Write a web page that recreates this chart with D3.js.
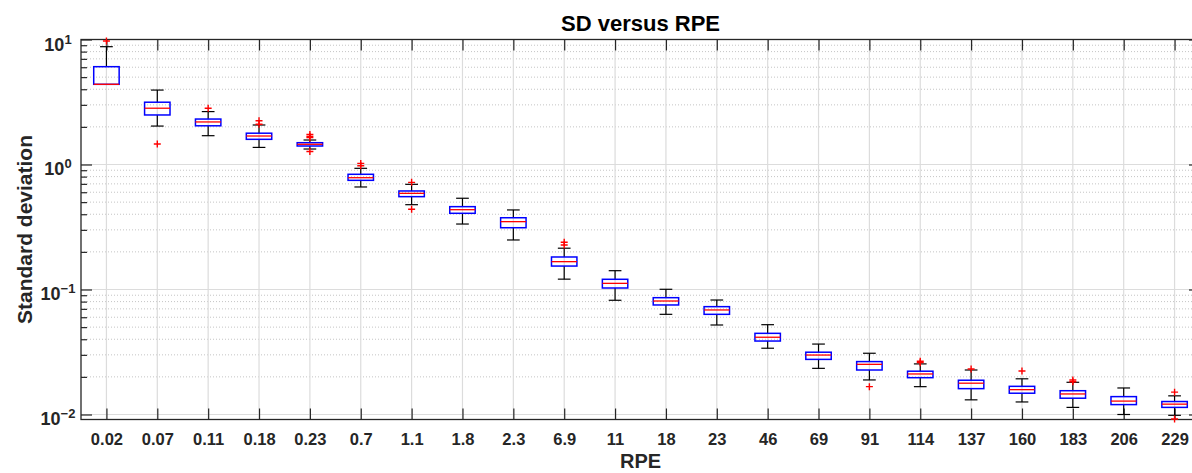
<!DOCTYPE html>
<html>
<head>
<meta charset="utf-8">
<script src="https://cdn.jsdelivr.net/npm/d3@7"></script>
<style>
  body { margin: 0; background: #fff; }
  svg { display: block; font-family: Helvetica, Arial, "Liberation Sans", sans-serif; }
</style>
</head>
<body>
<svg id="chart" width="1192" height="473"></svg>
<script>
// RPE categories (x axis)
const categories = ["0.02", "0.07", "0.11", "0.18", "0.23", "0.7", "1.1", "1.8", "2.3", "6.9", "11",
  "18", "23", "46", "69", "91", "114", "137", "160", "183", "206", "229"];

// box statistics
const whiskerLow = [4.38, 2.03, 1.70, 1.37, 1.33, 0.661, 0.477, 0.334, 0.249, 0.121, 0.082,
  0.0633, 0.052, 0.0339, 0.0234, 0.0189, 0.0167, 0.0131, 0.0126, 0.0114, 0.0100, 0.00985];
const q1 = [4.38, 2.49, 2.04, 1.59, 1.406, 0.747, 0.553, 0.407, 0.312, 0.154, 0.1028,
  0.0752, 0.0633, 0.0387, 0.0276, 0.0227, 0.0197, 0.0161, 0.0148, 0.0135, 0.0120, 0.0114];
const medians = [4.38, 2.82, 2.19, 1.69, 1.451, 0.784, 0.588, 0.435, 0.349, 0.167, 0.112,
  0.0809, 0.0686, 0.0415, 0.0299, 0.0252, 0.0211, 0.0178, 0.0158, 0.0146, 0.0128, 0.0121];
const q3 = [6.06, 3.15, 2.31, 1.78, 1.494, 0.835, 0.614, 0.46, 0.375, 0.182, 0.1207,
  0.086, 0.0729, 0.0446, 0.0315, 0.0265, 0.0222, 0.0188, 0.0168, 0.0155, 0.0139, 0.0127];
const whiskerHigh = [8.76, 3.94, 2.65, 2.07, 1.57, 0.932, 0.694, 0.537, 0.433, 0.214, 0.1414,
  0.1004, 0.0824, 0.0523, 0.0366, 0.0309, 0.0254, 0.0227, 0.0193, 0.0181, 0.0163, 0.0141];
const outliers = [[9.72], [1.46], [2.82], [2.10, 2.24], [1.27, 1.64, 1.68, 1.74], [0.978, 1.02],
  [0.438, 0.72], [], [], [0.227, 0.239], [], [], [], [], [], [0.0167], [0.026, 0.0267],
  [0.0231], [0.0223], [0.0183, 0.0189], [], [0.0092, 0.0151]];

const majorTicks = [0.01, 0.1, 1, 10];
const tickExponents = ["−2", "−1", "0", "1"];

const svg = d3.select("#chart");
const plotLeft = 81, plotRight = 1200, plotTop = 39.5, plotBottom = 419.5;
const axisColor = "#262626";

const x = d3.scalePoint().domain(categories).range([plotLeft, plotRight]).padding(0.5);
const y = d3.scaleLog().domain([0.00912, 10]).range([plotBottom, plotTop]);
const step = x.step();

const minorTicks = [];
[0.001, 0.01, 0.1, 1].forEach((base) => {
  for (let k = 2; k <= 9; k++) {
    const v = base * k;
    if (v > y.domain()[0] && v < y.domain()[1]) minorTicks.push(v);
  }
});

// grid
const grid = svg.append("g");
grid.selectAll("line.minor")
  .data(minorTicks)
  .join("line")
  .attr("x1", plotLeft).attr("x2", plotRight)
  .attr("y1", (d) => y(d)).attr("y2", (d) => y(d))
  .attr("stroke", "#c4c4c4").attr("stroke-width", 1)
  .attr("stroke-dasharray", "1,2");
grid.selectAll("line.ymajor")
  .data(majorTicks)
  .join("line")
  .attr("x1", plotLeft).attr("x2", plotRight)
  .attr("y1", (d) => y(d)).attr("y2", (d) => y(d))
  .attr("stroke", "#dcdcdc").attr("stroke-width", 1.2);
grid.selectAll("line.xmajor")
  .data(categories)
  .join("line")
  .attr("x1", (d) => x(d)).attr("x2", (d) => x(d))
  .attr("y1", plotTop).attr("y2", plotBottom)
  .attr("stroke", "#dcdcdc").attr("stroke-width", 1.2);

// axes (ticks point inward)
function styleAxis(g) {
  g.select(".domain").remove();
  g.selectAll(".tick line").attr("stroke", axisColor).attr("stroke-width", 1.2);
}
svg.append("g").attr("transform", `translate(0,${plotBottom})`)
  .call(d3.axisBottom(x).tickSize(-11).tickSizeOuter(0).tickPadding(14))
  .call(styleAxis)
  .call((g) => g.selectAll(".tick text")
    .attr("font-size", 16.5).attr("font-weight", "bold").attr("fill", axisColor)
    .attr("font-family", "Helvetica, Arial, 'Liberation Sans', sans-serif"));
svg.append("g").attr("transform", `translate(0,${plotTop})`)
  .call(d3.axisTop(x).tickSize(-11).tickFormat(""))
  .call(styleAxis);
svg.append("g").attr("transform", `translate(${plotLeft},0)`)
  .call(d3.axisLeft(y).tickValues(majorTicks).tickSize(-11).tickFormat(""))
  .call(styleAxis);
svg.append("g").attr("transform", `translate(${plotLeft},0)`)
  .call(d3.axisLeft(y).tickValues(minorTicks).tickSize(-6).tickFormat(""))
  .call(styleAxis);
svg.append("g").attr("transform", `translate(${plotRight},0)`)
  .call(d3.axisRight(y).tickValues(majorTicks).tickSize(-11).tickFormat(""))
  .call(styleAxis);
svg.append("g").attr("transform", `translate(${plotRight},0)`)
  .call(d3.axisRight(y).tickValues(minorTicks).tickSize(-6).tickFormat(""))
  .call(styleAxis);

// y tick labels 10^k
const ylab = svg.append("g").selectAll("text")
  .data(majorTicks)
  .join("text")
  .attr("x", 58)
  .attr("y", (d) => y(d) + 11)
  .attr("text-anchor", "middle")
  .attr("fill", axisColor)
  .attr("font-weight", "bold");
ylab.append("tspan").attr("font-size", 18).text("10");
ylab.append("tspan").attr("font-size", 13).attr("dy", -7).text((d, i) => tickExponents[i]);

// frame
svg.append("rect")
  .attr("x", plotLeft).attr("y", plotTop)
  .attr("width", plotRight - plotLeft).attr("height", plotBottom - plotTop)
  .attr("fill", "none").attr("stroke", axisColor).attr("stroke-width", 1.3);

// boxes
const boxes = svg.append("g").selectAll("g")
  .data(categories)
  .join("g");

boxes.append("line")
  .attr("x1", (d) => x(d)).attr("x2", (d) => x(d))
  .attr("y1", (d, i) => y(q3[i])).attr("y2", (d, i) => y(whiskerHigh[i]))
  .attr("stroke", "#000").attr("stroke-width", 1.2);
boxes.append("line")
  .attr("x1", (d) => x(d)).attr("x2", (d) => x(d))
  .attr("y1", (d, i) => y(q1[i])).attr("y2", (d, i) => y(whiskerLow[i]))
  .attr("stroke", "#000").attr("stroke-width", 1.2);
boxes.append("line")
  .attr("x1", (d) => x(d) - step / 8).attr("x2", (d) => x(d) + step / 8)
  .attr("y1", (d, i) => y(whiskerHigh[i])).attr("y2", (d, i) => y(whiskerHigh[i]))
  .attr("stroke", "#000").attr("stroke-width", 1.2);
boxes.append("line")
  .attr("x1", (d) => x(d) - step / 8).attr("x2", (d) => x(d) + step / 8)
  .attr("y1", (d, i) => y(whiskerLow[i])).attr("y2", (d, i) => y(whiskerLow[i]))
  .attr("stroke", "#000").attr("stroke-width", 1.2)
  .attr("display", (d, i) => (whiskerLow[i] === q1[i] ? "none" : null));
boxes.append("rect")
  .attr("x", (d) => x(d) - step / 4)
  .attr("width", step / 2)
  .attr("y", (d, i) => y(q3[i]))
  .attr("height", (d, i) => y(q1[i]) - y(q3[i]))
  .attr("fill", "none").attr("stroke", "#0000ff").attr("stroke-width", 1.5);
boxes.append("line")
  .attr("x1", (d) => x(d) - step / 4).attr("x2", (d) => x(d) + step / 4)
  .attr("y1", (d, i) => y(medians[i])).attr("y2", (d, i) => y(medians[i]))
  .attr("stroke", "#ff0000").attr("stroke-width", 1.3);

// outliers as red '+'
boxes.each(function (d, i) {
  const g = d3.select(this);
  outliers[i].forEach((v) => {
    const cx = x(d), cy = y(v);
    g.append("path")
      .attr("d", `M${cx - 3.5},${cy}H${cx + 3.5}M${cx},${cy - 3.5}V${cy + 3.5}`)
      .attr("stroke", "#ff0000").attr("stroke-width", 1.4).attr("fill", "none");
  });
});

// titles
svg.append("text")
  .attr("x", (plotLeft + plotRight) / 2).attr("y", 31)
  .attr("text-anchor", "middle")
  .attr("font-size", 22).attr("font-weight", "bold").attr("fill", "#000")
  .text("SD versus RPE");
svg.append("text")
  .attr("x", (plotLeft + plotRight) / 2).attr("y", 468)
  .attr("text-anchor", "middle")
  .attr("font-size", 20).attr("font-weight", "bold").attr("fill", axisColor)
  .text("RPE");
svg.append("text")
  .attr("transform", `translate(31.5,${(plotTop + plotBottom) / 2}) rotate(-90)`)
  .attr("text-anchor", "middle")
  .attr("font-size", 21).attr("font-weight", "bold").attr("fill", axisColor)
  .text("Standard deviation");
</script>
</body>
</html>
